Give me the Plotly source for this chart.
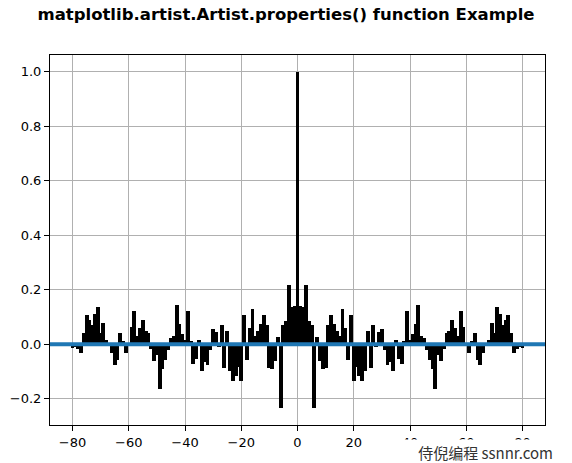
import plotly.graph_objects as go

# autocorrelation (lags -80..80)
lags = list(range(-80, 81))

corr_neg = [
    -0.015, -0.012, -0.018, -0.034, 0.04, 0.107, 0.088, 0.072, 0.11, 0.136,
    0.042, 0.078, 0.015, -0.005, -0.033, -0.076, -0.058, 0.04, 0.012, -0.031,
    0.005, 0.064, 0.122, 0.03, 0.058, 0.088, 0.05, 0.04, -0.018, -0.062,
    -0.04, -0.164, -0.093, -0.058, -0.02, 0.023, 0.03, 0.144, 0.073, 0.036,
    0.017, 0.122, 0.01, -0.073, -0.053, 0.015, -0.1, -0.066, -0.075, -0.02,
    0.057, 0.045, -0.01, 0.07, -0.086, 0.048, -0.1, -0.137, -0.118, -0.085,
    -0.134, 0.107, -0.058, 0.06, 0.128, 0.03, 0.048, 0.074, 0.107, 0.072,
    -0.086, -0.09, -0.062, 0.026, -0.234, 0.072, 0.085, 0.218, 0.135, 0.14,
]

corr_zero = [1.0]

corr_pos = [
    0.14, 0.135, 0.218, 0.085, 0.072, -0.234, 0.026, -0.062, -0.09, -0.086,
    0.072, 0.107, 0.074, 0.048, 0.03, 0.128, 0.06, -0.058, 0.107, -0.134,
    -0.085, -0.118, -0.137, -0.1, 0.048, -0.086, 0.07, -0.01, 0.045, 0.057,
    -0.02, -0.075, -0.066, -0.1, 0.015, -0.053, -0.073, 0.01, 0.122, 0.017,
    0.036, 0.073, 0.144, 0.03, 0.023, -0.02, -0.058, -0.093, -0.164, -0.04,
    -0.062, -0.018, 0.04, 0.05, 0.088, 0.058, 0.03, 0.122, 0.064, 0.005,
    -0.031, 0.012, 0.04, -0.058, -0.076, -0.033, -0.005, 0.015, 0.078, 0.042,
    0.136, 0.11, 0.072, 0.088, 0.107, 0.04, -0.034, -0.018, -0.012, -0.015,
]

corr = corr_neg + corr_zero + corr_pos

x_ticks = [-80, -60, -40, -20, 0, 20, 40, 60, 80]
y_ticks = [-0.2, 0.0, 0.2, 0.4, 0.6, 0.8, 1.0]

title = "matplotlib.artist.Artist.properties() function Example"
watermark = "侍倪编程 ssnnr.com"

fig = go.Figure()

fig.add_trace(go.Bar(
    x=lags,
    y=corr,
    width=1.4,
    marker=dict(color="black", line=dict(width=0)),
    showlegend=False
))

fig.add_hline(y=0, line_color="#1f77b4", line_width=4, layer="above")

axis_style = dict(
    showgrid=True,
    gridcolor="#b0b0b0",
    gridwidth=1,
    zeroline=False,
    showline=True,
    linecolor="black",
    linewidth=1,
    mirror=True,
    ticks="outside",
    ticklen=5,
    tickcolor="black",
    tickfont=dict(family="DejaVu Sans", size=13, color="black"),
)

fig.update_xaxes(
    range=[-88, 88],
    tickvals=x_ticks,
    **axis_style
)

fig.update_yaxes(
    range=[-0.297, 1.062],
    tickvals=y_ticks,
    tickformat=".1f",
    **axis_style
)

fig.update_layout(
    width=572,
    height=463,
    margin=dict(l=50, r=27, t=55, b=38, autoexpand=False),
    paper_bgcolor="white",
    plot_bgcolor="white",
    bargap=0,
    title=dict(
        text=title,
        x=0.5,
        xanchor="center",
        y=0.97,
        yanchor="middle",
        font=dict(family="DejaVu Sans", size=16.5, color="black", weight="bold")
    ),
)

# watermark sits on a white box that hides the lower part of the 40/60/80 labels
fig.add_annotation(
    text=watermark,
    xref="paper", yref="paper",
    x=1.02, y=-0.037,
    xanchor="right", yanchor="top",
    showarrow=False,
    bgcolor="white",
    width=170,
    height=22,
    align="right",
    font=dict(family="Noto Sans CJK SC", size=15, color="#333333")
)

# page body has a default 8px margin; drop it so the figure sits at the corner
fig.write_html(
    "out.html",
    config={"displayModeBar": False},
    post_script="document.body.style.margin='0';"
)
